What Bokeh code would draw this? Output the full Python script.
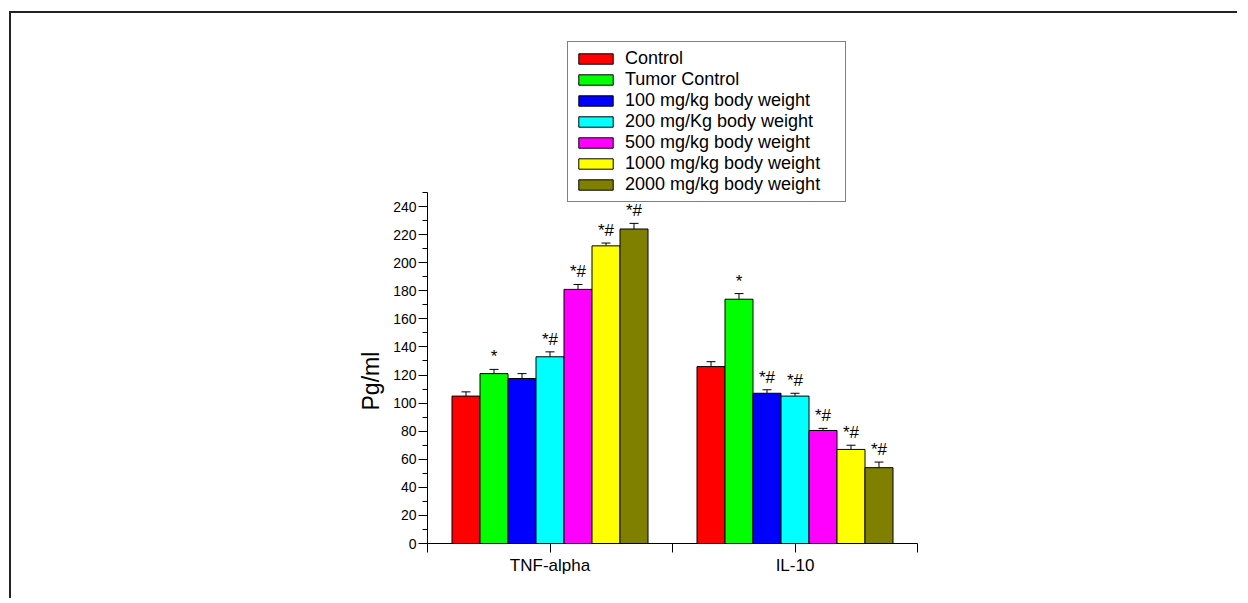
from bokeh.plotting import figure
from bokeh.models import (ColumnDataSource, Whisker, TeeHead, FixedTicker,
                          SingleIntervalTicker, Range1d, Legend, LegendItem, Title)
from bokeh.layouts import column
from bokeh.embed import file_html
from bokeh.resources import INLINE
from bokeh.core.properties import value

# ---------------- data ----------------
categories = ["TNF-alpha", "IL-10"]
series = ["Control", "Tumor Control", "100 mg/kg body weight",
          "200 mg/Kg body weight", "500 mg/kg body weight",
          "1000 mg/kg body weight", "2000 mg/kg body weight"]
colors = ["#FF0000", "#00FF00", "#0000FF", "#00FFFF", "#FF00FF", "#FFFF00", "#808000"]

control = [105, 126]
tumor_control = [121, 174]
dose_100 = [117.5, 107]
dose_200 = [133, 105]
dose_500 = [181, 80.5]
dose_1000 = [212, 67]
dose_2000 = [224, 54]

err_control = [3, 3.5]
err_tumor_control = [3, 4]
err_100 = [3.5, 2.5]
err_200 = [3.5, 2]
err_500 = [3.5, 1.5]
err_1000 = [2, 3]
err_2000 = [4, 4]

marks_control = ["", ""]
marks_tumor_control = ["*", "*"]
marks_100 = ["", "*#"]
marks_200 = ["*#", "*#"]
marks_500 = ["*#", "*#"]
marks_1000 = ["*#", "*#"]
marks_2000 = ["*#", "*#"]

y_axis_max = 250
y_tick_step = 20
y_label = "Pg/ml"

values = [control, tumor_control, dose_100, dose_200, dose_500, dose_1000, dose_2000]
errors = [err_control, err_tumor_control, err_100, err_200, err_500, err_1000, err_2000]
marks = [marks_control, marks_tumor_control, marks_100, marks_200, marks_500, marks_1000, marks_2000]

# ---------------- figure ----------------
FONT = "Liberation Sans"
group_centers = [1 + 2 * g for g in range(len(categories))]
n = len(series)
bar_w = 1.6 / n

AXIS_PX = 351          # pixel height of the 0..250 axis
FRAME_H = 520          # frame extends above the axis to host the legend
y_end = y_axis_max * FRAME_H / AXIS_PX

p = figure(output_backend="svg", toolbar_location=None,
           x_range=Range1d(0, 2 * len(categories)), y_range=Range1d(0, y_end),
           frame_width=490, frame_height=FRAME_H,
           min_border_left=416, min_border_right=320,
           min_border_top=10, min_border_bottom=55,
           background_fill_color="white", border_fill_color="white")
p.outline_line_color = None
p.xgrid.grid_line_color = None
p.ygrid.grid_line_color = None

items = []
for i in range(n):
    xs = [c + (i - (n - 1) / 2) * bar_w for c in group_centers]
    src = ColumnDataSource(dict(
        x=xs, top=values[i],
        upper=[v + e for v, e in zip(values[i], errors[i])],
        mark=marks[i]))
    r = p.vbar(x="x", top="top", width=bar_w, bottom=0, source=src,
               fill_color=colors[i], line_color="black", line_width=1)
    items.append(LegendItem(label=series[i], renderers=[r]))
    w = Whisker(base="x", lower="top", upper="upper", source=src,
                dimension="height", line_color="black", line_width=1,
                upper_head=TeeHead(size=9, line_color="black", line_width=1),
                lower_head=None)
    p.add_layout(w)
    p.text(x="x", y="upper", text="mark", source=src, text_align="center",
           text_baseline="bottom", y_offset=-3, text_font=value(FONT),
           text_font_size="17px", text_color="black")

# axes
xa = p.xaxis[0]
xa.ticker = FixedTicker(ticks=list(range(0, 2 * len(categories) + 1)))
xa.major_label_overrides = {k: "" for k in range(0, 2 * len(categories) + 1)}
for c, name in zip(group_centers, categories):
    xa.major_label_overrides[c] = name
xa.minor_tick_line_color = None
xa.major_tick_out = 9
xa.major_tick_in = 0
xa.major_label_text_font = FONT
xa.major_label_text_font_size = "17px"
xa.major_label_text_color = "black"
xa.major_label_standoff = 3
xa.axis_line_color = "black"
xa.major_tick_line_color = "black"

ya = p.yaxis[0]
ya.bounds = (0, y_axis_max)
ya.ticker = SingleIntervalTicker(interval=y_tick_step, num_minor_ticks=2)
ya.major_tick_out = 9
ya.major_tick_in = 0
ya.minor_tick_out = 5
ya.minor_tick_in = 0
ya.major_label_text_font = FONT
ya.major_label_text_font_size = "14px"
ya.major_label_text_color = "black"
ya.major_label_standoff = 2
ya.axis_line_color = "black"
ya.major_tick_line_color = "black"
ya.minor_tick_line_color = "black"

# y-axis title, positioned along the 0..250 part of the axis
ytitle = Title(text=y_label, align="left", vertical_align="bottom",
               offset=133, standoff=14, text_font=FONT,
               text_font_size="23px", text_font_style="normal",
               text_color="black")
p.add_layout(ytitle, "left")

legend = Legend(items=items, location=(140, 341),
                glyph_width=43, glyph_height=13, spacing=0,
                label_standoff=8, padding=6, margin=0,
                label_width=214, label_height=21,
                label_text_font=FONT, label_text_font_size="18px",
                label_text_color="black",
                border_line_color="black", border_line_width=1.5,
                background_fill_color="white", background_fill_alpha=1)
p.add_layout(legend)

layout = column(p, margin=(11, 0, 0, 9),
                styles={"border-left": "2px solid #222", "border-top": "2px solid #222"})

open("out.html", "w").write(file_html(layout, INLINE))
